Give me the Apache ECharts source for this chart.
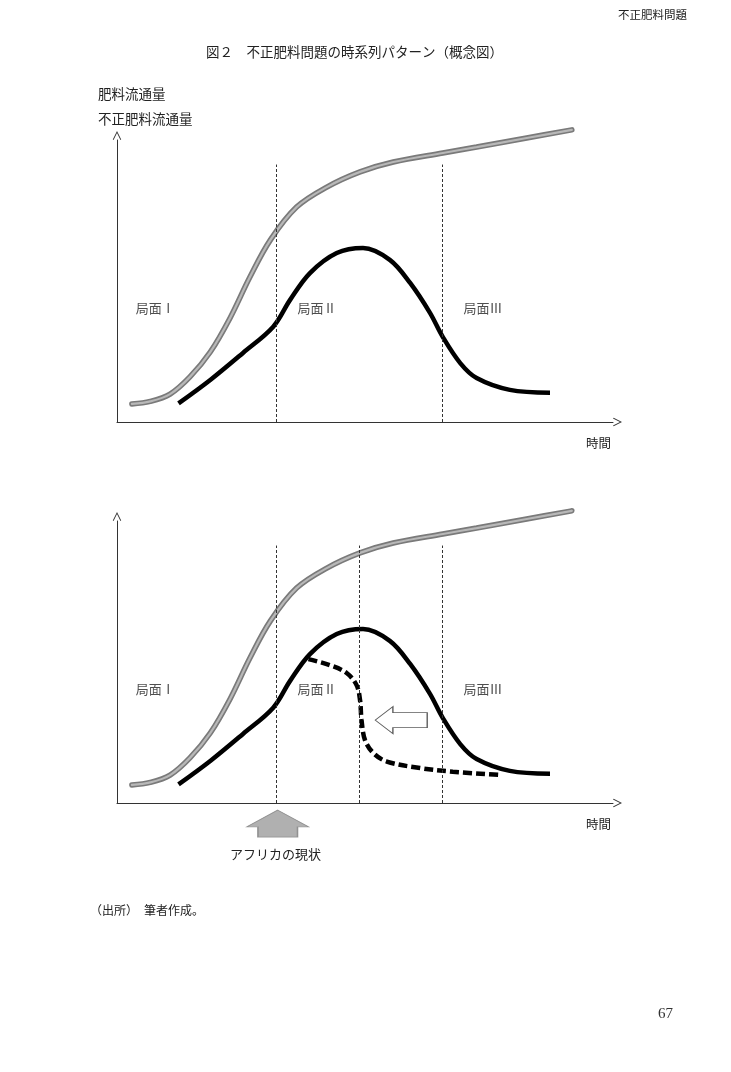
<!DOCTYPE html>
<html lang="ja">
<head>
<meta charset="utf-8">
<title>図2 不正肥料問題の時系列パターン（概念図）</title>
<script src="https://cdn.jsdelivr.net/npm/echarts@6/dist/echarts.min.js"></script>
<style>
  html, body { margin: 0; padding: 0; background: #fff; }
  #main { width: 731px; height: 1072px; }
</style>
</head>
<body>
<div id="main"></div>
<script>
// 概念図なので単位は任意: 時間 0-100, 流通量 0-100
var fluxData = [  // 肥料流通量 (灰色)
  [3.0, 6.4], [6.7, 7.3], [10.7, 9.9], [14.7, 16.0], [18.8, 24.8], [22.8, 36.9],
  [26.8, 51.4], [30.9, 64.5], [36.2, 76.2], [42.3, 83.3], [49.0, 88.7], [55.7, 92.2],
  [65.7, 95.4], [72.5, 97.5], [82.6, 100.7], [91.7, 103.6]
];
var illicitData = [  // 不正肥料流通量 (黒)
  [12.4, 6.6], [18.8, 14.9], [25.4, 24.5], [31.5, 33.8], [34.9, 43.3], [38.9, 52.8],
  [44.3, 59.9], [49.6, 61.7], [55.0, 57.5], [59.1, 49.3], [63.1, 38.7], [65.7, 30.1],
  [69.2, 20.9], [72.5, 15.6], [79.2, 11.4], [87.3, 10.4]
];
var africaData = [  // 破線: 早期に減少するケース
  [38.6, 51.0], [42.9, 48.9], [46.3, 46.1], [48.3, 41.8], [49.0, 36.5], [49.3, 29.4],
  [50.0, 22.3], [51.7, 17.7], [54.4, 14.7], [61.1, 12.4], [67.7, 11.1], [77.6, 9.9]
];
var phaseLinesTop = [32.2, 65.6];
var phaseLinesBottom = [32.2, 48.9, 65.6];
var phaseLineTop = 91.3;
var phaseLabels = [[7.7, 40.5, '局面Ⅰ'], [40.3, 40.5, '局面Ⅱ'], [73.8, 40.5, '局面Ⅲ']];
var shiftArrow = [[57.3, 29.4]];     // 白抜き矢印 (左向き)
var africaArrow = [[32.4, -7.3]];    // アフリカの現状

var chart = echarts.init(document.getElementById('main'));
var jpFont = '"Noto Sans CJK JP", sans-serif';
var smoothness = 0.35;

function vLines(xs) {
  return xs.map(function (x) {
    return [{ coord: [x, 0] }, { coord: [x, phaseLineTop] }];
  });
}

function axisPair(idx) {
  var line = {
    show: true,
    onZero: false,
    lineStyle: { color: '#333', width: 1 },
    symbol: ['none', 'path://M0,10 L5,0 L10,10 L9.1,10.7 L5,2.4 L0.9,10.7 Z'],
    symbolSize: [13, 9],
    symbolOffset: [0, 4.5]
  };
  return {
    x: { type: 'value', gridIndex: idx, min: 0, max: 100, axisLine: line,
         axisTick: { show: false }, axisLabel: { show: false }, splitLine: { show: false } },
    y: { type: 'value', gridIndex: idx, min: 0, max: 100, axisLine: line,
         axisTick: { show: false }, axisLabel: { show: false }, splitLine: { show: false } }
  };
}

function panelSeries(idx, lines, withAfrica) {
  var s = [
    { type: 'line', xAxisIndex: idx, yAxisIndex: idx, data: fluxData, smooth: smoothness,
      showSymbol: false, silent: true, clip: false,
      lineStyle: { color: '#7a7a7a', width: 5.5, cap: 'round' },
      markLine: { silent: true, symbol: 'none', label: { show: false },
        lineStyle: { color: '#333', width: 1, type: [3, 2] }, data: vLines(lines) } },
    { type: 'line', xAxisIndex: idx, yAxisIndex: idx, data: fluxData, smooth: smoothness,
      showSymbol: false, silent: true, clip: false,
      lineStyle: { color: '#b8b8b8', width: 2.2, cap: 'round' } },
    { type: 'line', xAxisIndex: idx, yAxisIndex: idx, data: illicitData, smooth: smoothness,
      showSymbol: false, silent: true, clip: false,
      lineStyle: { color: '#000', width: 4.5 } },
    { type: 'scatter', xAxisIndex: idx, yAxisIndex: idx, data: phaseLabels, symbolSize: 0,
      silent: true,
      label: { show: true, position: 'inside', formatter: function (p) { return p.value[2]; },
        fontFamily: jpFont, fontSize: 13, color: '#222' } }
  ];
  if (withAfrica) {
    s.push({ type: 'line', xAxisIndex: idx, yAxisIndex: idx, data: africaData, smooth: smoothness,
      showSymbol: false, silent: true, clip: false,
      lineStyle: { color: '#000', width: 4.5, type: [9, 4] } });
    s.push({ type: 'scatter', xAxisIndex: idx, yAxisIndex: idx, data: shiftArrow, silent: true,
      symbol: 'path://M0,50 L34,0 L34,22 L100,22 L100,78 L34,78 L34,100 Z',
      symbolSize: [52, 27], symbolKeepAspect: false,
      itemStyle: { color: '#fff', borderColor: '#333', borderWidth: 1 } });
    s.push({ type: 'scatter', xAxisIndex: idx, yAxisIndex: idx, data: africaArrow, silent: true,
      clip: false,
      symbol: 'path://M50,0 L100,62 L82,62 L82,100 L18,100 L18,62 L0,62 Z',
      symbolSize: [62, 27], symbolKeepAspect: false,
      itemStyle: { color: '#9c9c9c', borderColor: '#808080', borderWidth: 1 } });
  }
  return s;
}

var a0 = axisPair(0), a1 = axisPair(1);

function txt(left, top, text, size) {
  return { type: 'text', left: left, top: top, silent: true,
    style: { text: text, fontFamily: jpFont, fontSize: size, fill: '#222' } };
}

chart.setOption({
  backgroundColor: '#fff',
  animation: false,
  grid: [
    { left: 117, top: 140, width: 496, height: 282 },
    { left: 117, top: 521, width: 496, height: 282 }
  ],
  xAxis: [a0.x, a1.x],
  yAxis: [a0.y, a1.y],
  series: panelSeries(0, phaseLinesTop, false).concat(panelSeries(1, phaseLinesBottom, true)),
  graphic: [
    txt(618, 9, '不正肥料問題', 11.5),
    txt(206, 45, '図２　不正肥料問題の時系列パターン（概念図）', 13.5),
    txt(98, 87, '肥料流通量', 13.5),
    txt(98, 112, '不正肥料流通量', 13.5),
    { type: 'text', right: 120, top: 437, silent: true,
      style: { text: '時間', fontFamily: jpFont, fontSize: 12.5, fill: '#222' } },
    { type: 'text', right: 120, top: 818, silent: true,
      style: { text: '時間', fontFamily: jpFont, fontSize: 12.5, fill: '#222' } },
    txt(230, 848, 'アフリカの現状', 13),
    txt(90, 904, '（出所）　筆者作成。', 12),
    { type: 'text', left: 658, top: 1007, silent: true,
      style: { text: '67', fontFamily: '"Liberation Serif", serif', fontSize: 15, fill: '#333' } }
  ]
});
</script>
</body>
</html>
